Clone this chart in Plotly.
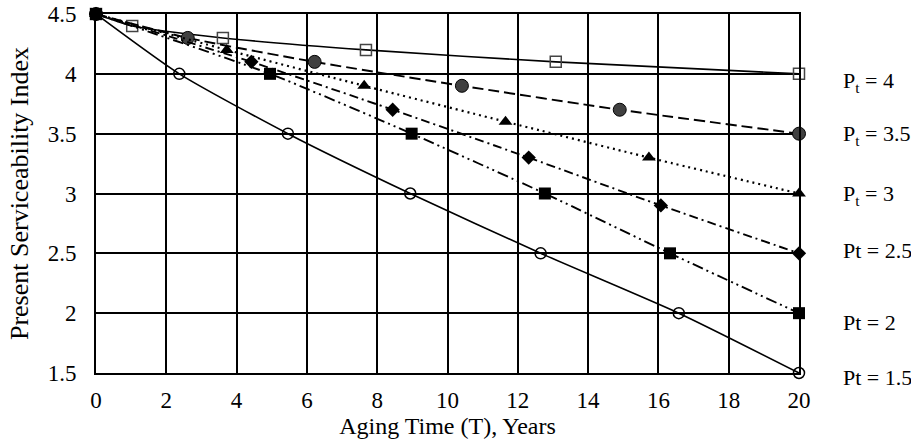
import plotly.graph_objects as go

# Aging time (years) at each marker, and PSI value, per terminal serviceability Pt
t_pt40 = [0, 1.03, 3.61, 7.68, 13.08, 20]
psi_pt40 = [4.5, 4.4, 4.3, 4.2, 4.1, 4.0]

t_pt35 = [0, 2.61, 6.22, 10.41, 14.9, 20]
psi_pt35 = [4.5, 4.3, 4.1, 3.9, 3.7, 3.5]

t_pt30 = [0, 3.72, 7.63, 11.65, 15.73, 20]
psi_pt30 = [4.5, 4.2, 3.9, 3.6, 3.3, 3.0]

t_pt25 = [0, 4.42, 8.44, 12.31, 16.07, 20]
psi_pt25 = [4.5, 4.1, 3.7, 3.3, 2.9, 2.5]

t_pt20 = [0, 4.95, 8.98, 12.77, 16.33, 20]
psi_pt20 = [4.5, 4.0, 3.5, 3.0, 2.5, 2.0]

t_pt15 = [0, 2.37, 5.46, 8.94, 12.65, 16.58, 20]
psi_pt15 = [4.5, 4.0, 3.5, 3.0, 2.5, 2.0, 1.5]

label_text = ["P<sub>t</sub> = 4", "P<sub>t</sub> = 3.5", "P<sub>t</sub> = 3",
              "Pt = 2.5", "Pt = 2", "Pt = 1.5"]
label_y = [4.0, 3.5, 3.0, 2.5, 2.0, 1.5]
label_yshift = [-8, -1, -1, 3, -9, -4]
label_x = [20, 20, 20, 20, 20, 20]

x_ticks = [0, 2, 4, 6, 8, 10, 12, 14, 16, 18, 20]
y_ticks = [1.5, 2, 2.5, 3, 3.5, 4, 4.5]
y_tick_text = ["1.5", "2", "2.5", "3", "3.5", "4", "4.5"]

FONT = "Liberation Serif"

series = [
    (t_pt40, psi_pt40, "solid", 1.6, dict(symbol="square-open", size=11, color="#444444", line=dict(width=1.5, color="#444444"))),
    (t_pt35, psi_pt35, "11px,5px", 1.9, dict(symbol="circle", size=13, color="#404040", line=dict(width=1, color="black"))),
    (t_pt30, psi_pt30, "2px,4px", 2.2, dict(symbol="triangle-up", size=12, color="black")),
    (t_pt25, psi_pt25, "9px,4px,2px,4px", 1.9, dict(symbol="diamond", size=11, color="black")),
    (t_pt20, psi_pt20, "11px,4px,2px,4px,2px,4px", 1.9, dict(symbol="square", size=12, color="black")),
    (t_pt15, psi_pt15, "solid", 1.6, dict(symbol="circle-open", size=11, color="black", line=dict(width=1.5, color="black"))),
]

fig = go.Figure()
for tx, py, dash, lw, mk in series:
    fig.add_trace(go.Scatter(
        x=tx, y=py, mode="lines+markers",
        line=dict(color="black", width=lw, dash=dash, shape="spline", smoothing=0.6),
        marker=mk, cliponaxis=False, showlegend=False,
    ))

for txt, lx, ly, ys in zip(label_text, label_x, label_y, label_yshift):
    fig.add_annotation(x=lx, y=ly, text=txt, showarrow=False, xanchor="left",
                       xshift=42, yshift=ys, font=dict(family=FONT, size=22, color="black"))

fig.update_xaxes(range=[0, 20], tickvals=x_ticks, showgrid=True, gridcolor="black", gridwidth=1.6,
                 showline=True, linecolor="black", linewidth=2, mirror=True, zeroline=False,
                 ticks="", ticklabelstandoff=5, automargin=False, ticklabeloverflow="allow",
                 tickfont=dict(family=FONT, size=23, color="black"),
                 title=dict(text="Aging Time (T), Years", font=dict(family=FONT, size=24, color="black"), standoff=2))
fig.update_yaxes(range=[1.5, 4.5], tickvals=y_ticks, ticktext=y_tick_text, showgrid=True, gridcolor="black",
                 gridwidth=1.6, showline=True, linecolor="black", linewidth=2, mirror=True, zeroline=False,
                 ticks="", ticklabelstandoff=13, automargin=False, ticklabeloverflow="allow",
                 tickfont=dict(family=FONT, size=23, color="black"),
                 title=dict(text="Present Serviceability Index", font=dict(family=FONT, size=26, color="black"), standoff=12))

fig.update_layout(width=911, height=447, margin=dict(l=96, r=112, t=14, b=74),
                  plot_bgcolor="white", paper_bgcolor="white")
# remove the page's default body margin so the figure fills the window exactly
fig.write_html("out.html", config={"displayModeBar": False},
               post_script="document.body.style.margin='0';")
